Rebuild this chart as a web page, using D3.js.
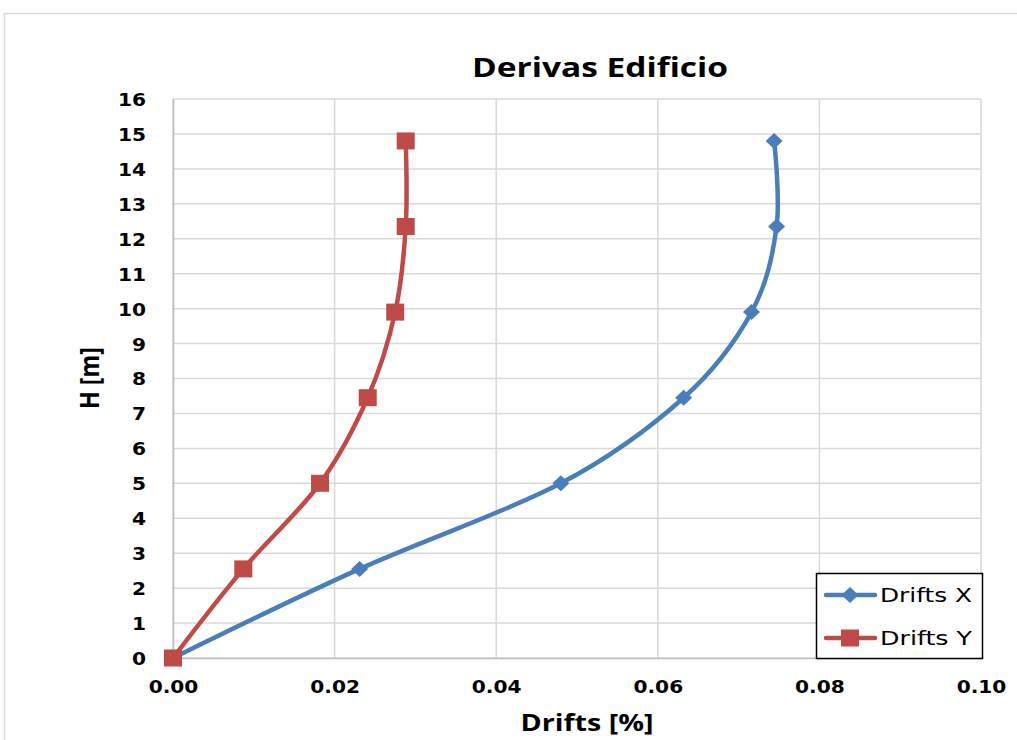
<!DOCTYPE html>
<html>
<head>
<meta charset="utf-8">
<script src="https://cdn.jsdelivr.net/npm/d3@7"></script>
<style>
  html, body { margin: 0; padding: 0; background: #fff; }
  svg { display: block; }
</style>
</head>
<body>
<svg id="chart" width="1017" height="740"></svg>
<script>
// Story heights [m] and inter-story drifts [%]
const heights = [0, 2.55, 5.0, 7.45, 9.9, 12.35, 14.8];
const driftsX = [0, 0.0231, 0.0480, 0.0632, 0.0716, 0.0747, 0.0744];
const driftsY = [0, 0.0087, 0.0182, 0.0241, 0.0275, 0.0288, 0.0288];
const seriesNames = ["Drifts X", "Drifts Y"];
const seriesColors = ["#4a7ebb", "#be4b48"];
const xTicks = [0, 0.02, 0.04, 0.06, 0.08, 0.10];
const yTicks = d3.range(0, 17);

const svg = d3.select("#chart");
const W = 1017, H = 740;
const plot = { left: 173, right: 981, top: 99, bottom: 658 };

// widen a text element horizontally by a factor of its natural width
function widen(sel, factor) {
  sel.each(function () {
    const len = this.getComputedTextLength();
    d3.select(this).attr("textLength", len * factor).attr("lengthAdjust", "spacingAndGlyphs");
  });
}

// outer chart frame
svg.append("rect").attr("x", 4.5).attr("y", 13.5).attr("width", W + 10).attr("height", H)
  .attr("fill", "#fff").attr("stroke", "#d9d9d9").attr("stroke-width", 1.5);

const x = d3.scaleLinear().domain([0, 0.10]).range([plot.left, plot.right]);
const y = d3.scaleLinear().domain([0, 16]).range([plot.bottom, plot.top]);

// gridlines
const grid = svg.append("g");
grid.selectAll("line.h").data(yTicks).join("line")
  .attr("x1", plot.left).attr("x2", plot.right)
  .attr("y1", d => y(d)).attr("y2", d => y(d))
  .attr("stroke", "#d9d9d9").attr("stroke-width", 1.5);
grid.selectAll("line.v").data(xTicks).join("line")
  .attr("x1", d => x(d)).attr("x2", d => x(d))
  .attr("y1", plot.top).attr("y2", plot.bottom)
  .attr("stroke", "#d9d9d9").attr("stroke-width", 1.5);

// axes
const xAxis = d3.axisBottom(x).tickValues(xTicks).tickFormat(d3.format(".2f")).tickSize(0).tickPadding(22);
const yAxis = d3.axisLeft(y).tickValues(yTicks).tickFormat(d3.format("d")).tickSize(0).tickPadding(27);

const gx = svg.append("g").attr("transform", `translate(0,${plot.bottom})`).call(xAxis);
const gy = svg.append("g").attr("transform", `translate(${plot.left},0)`).call(yAxis);
[gx, gy].forEach(g => {
  g.select(".domain").attr("stroke", "#bfbfbf").attr("stroke-width", 1.5);
  g.selectAll("text").attr("font-family", "DejaVu Sans, Verdana, sans-serif")
    .attr("font-weight", "bold").attr("font-size", 18).attr("fill", "#000");
  widen(g.selectAll("text"), 1.12);
});
gx.selectAll("text").attr("dy", "0.71em");
gy.selectAll("text").attr("dy", "0.36em");

// titles
const title = svg.append("text").attr("x", 600).attr("y", 77).attr("text-anchor", "middle")
  .attr("font-family", "Open Sans, sans-serif").attr("font-weight", "bold").attr("font-size", 26)
  .attr("fill", "#000").text("Derivas Edificio");
title.attr("textLength", 256).attr("lengthAdjust", "spacingAndGlyphs");

svg.append("text").attr("x", 587).attr("y", 731).attr("text-anchor", "middle")
  .attr("font-family", "Open Sans, sans-serif").attr("font-weight", "bold").attr("font-size", 23)
  .attr("fill", "#000").attr("textLength", 133).attr("lengthAdjust", "spacingAndGlyphs")
  .text("Drifts [%]");
svg.append("text").attr("transform", `translate(99,378) rotate(-90)`).attr("text-anchor", "middle")
  .attr("font-family", "Open Sans, sans-serif").attr("font-weight", "bold").attr("font-size", 27)
  .attr("fill", "#000").attr("textLength", 62).attr("lengthAdjust", "spacingAndGlyphs")
  .text("H [m]");

// series
const line = d3.line().x(d => x(d[0])).y(d => y(d[1])).curve(d3.curveCatmullRom.alpha(0));
const series = [driftsX, driftsY].map(vals => vals.map((v, i) => [v, heights[i]]));

series.forEach((pts, si) => {
  svg.append("path").datum(pts).attr("d", line)
    .attr("fill", "none").attr("stroke", seriesColors[si]).attr("stroke-width", 4.5)
    .attr("stroke-linejoin", "round").attr("stroke-linecap", "round");
});

function drawMarker(g, kind, color) {
  if (kind === 0) {
    g.append("path").attr("d", "M0,-8L8.5,0L0,8L-8.5,0Z").attr("fill", color);
  } else {
    g.append("rect").attr("x", -9).attr("y", -8.5).attr("width", 18).attr("height", 17).attr("fill", color);
  }
}
series.forEach((pts, si) => {
  pts.forEach(p => {
    const g = svg.append("g").attr("transform", `translate(${x(p[0])},${y(p[1])})`);
    drawMarker(g, si, seriesColors[si]);
  });
});

// legend
const leg = svg.append("g");
leg.append("rect").attr("x", 816.5).attr("y", 573.5).attr("width", 166).attr("height", 85)
  .attr("fill", "#fff").attr("stroke", "#000").attr("stroke-width", 1.5);
seriesNames.forEach((name, i) => {
  const cy = 595 + i * 43;
  leg.append("line").attr("x1", 826).attr("x2", 875).attr("y1", cy).attr("y2", cy)
    .attr("stroke", seriesColors[i]).attr("stroke-width", 4.5).attr("stroke-linecap", "round");
  const g = leg.append("g").attr("transform", `translate(850,${cy})`);
  drawMarker(g, i, seriesColors[i]);
  leg.append("text").attr("x", 880).attr("y", cy).attr("dy", "0.36em")
    .attr("font-family", "DejaVu Sans, Verdana, sans-serif").attr("font-size", 20)
    .attr("fill", "#000").attr("textLength", 92).attr("lengthAdjust", "spacingAndGlyphs")
    .text(name);
});
</script>
</body>
</html>
